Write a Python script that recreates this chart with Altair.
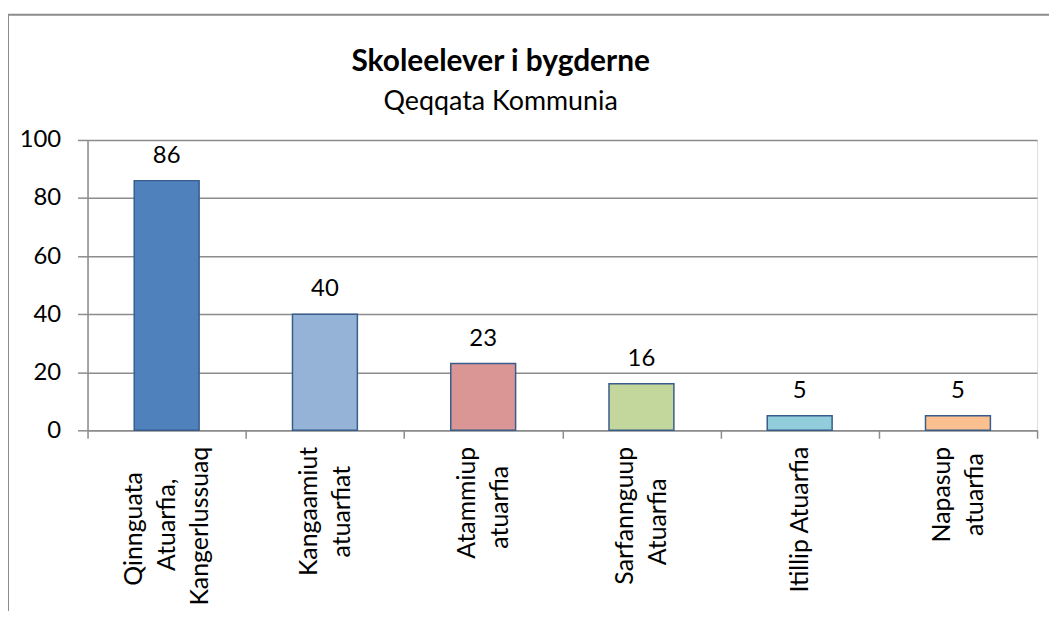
import altair as alt
import pandas as pd

NBSP = "\u00a0"
ZWSP = "\u200b"  # keeps the trailing no-break spaces from being trimmed

# Data
label_lines = [
    ["Qinnguata", "Atuarfia,", "Kangerlussuaq"],
    ["Kangaamiut", "atuarfiat"],
    ["Atammiup", "atuarfia"],
    ["Sarfannguup", "Atuarfia"],
    ["Itillip Atuarfia"],
    ["Napasup", "atuarfia"],
]
# trailing padding so the shorter lines sit centred under the longest one
line_pad = [
    [4, 5, 0],
    [0, 3],
    [0, 3],
    [0, 5],
    [0],
    [0, 1],
]
values = [86, 40, 23, 16, 5, 5]
colors = ["#4F81BD", "#95B3D7", "#D99694", "#C3D69B", "#92CDDC", "#FAC090"]

categories = [
    "|".join(line + (NBSP * pad + ZWSP if pad else "") for line, pad in zip(lines, pads))
    for lines, pads in zip(label_lines, line_pad)
]

df = pd.DataFrame({"cat": categories, "value": values})

FONT = "Lato"
GRID = "#8c8c8c"
LH = 33

x_enc = alt.X(
    "cat:N",
    sort=categories,
    title=None,
    scale=alt.Scale(paddingInner=0, paddingOuter=0),
    axis=alt.Axis(
        labelExpr="split(datum.label, '|')",
        labelAngle=270,
        labelAlign="right",
        labelBaseline="middle",
        labelFontSize=25,
        labelFont=FONT,
        labelColor="#000000",
        labelLineHeight=LH,
        labelPadding=8,
        labelOffset={
            "condition": [
                {"test": "indexof(datum.label, 'Kangerlussuaq') >= 0", "value": -LH},
                {"test": "indexof(datum.label, '|') < 0", "value": 0},
            ],
            "value": -LH / 2,
        },
        tickBand="extent",
        tickSize=8,
        tickColor=GRID,
        tickWidth=1.5,
        domainColor=GRID,
        domainWidth=1.5,
        grid=False,
        labelOverlap=False,
        labelLimit=400,
    ),
)
y_enc = alt.Y(
    "value:Q",
    title=None,
    scale=alt.Scale(domain=[0, 100], nice=False),
    axis=alt.Axis(
        values=[0, 20, 40, 60, 80, 100],
        labelFontSize=24,
        labelFont=FONT,
        labelColor="#000000",
        labelPadding=17,
        tickSize=10,
        tickColor=GRID,
        tickWidth=1.5,
        domainColor=GRID,
        domainWidth=1.5,
        gridColor=GRID,
        gridWidth=1.5,
    ),
)

border = alt.Chart(pd.DataFrame({"b": [0]})).mark_rect(
    filled=False, stroke="#8c8c8c", strokeWidth=2
).encode(
    x=alt.value(-80), x2=alt.value(1200), y=alt.value(-126), y2=alt.value(900)
)

bars = alt.Chart(df).mark_bar(
    stroke="#385D8A", strokeWidth=1.5, width=alt.RelativeBandSize(0.41)
).encode(
    x=x_enc,
    y=y_enc,
    color=alt.Color("cat:N", sort=categories,
                    scale=alt.Scale(domain=categories, range=colors), legend=None),
)

labels = alt.Chart(df).mark_text(
    dy=-18, baseline="alphabetic", fontSize=24, font=FONT, color="#000000"
).encode(
    x=alt.X("cat:N", sort=categories),
    y="value:Q",
    text="value:Q",
)

chart = alt.layer(border, bars, labels).properties(
    width=955,
    height=292,
    padding={"left": 80, "top": 131, "right": 12, "bottom": 180},
    autosize=alt.AutoSizeParams(type="none"),
    title=alt.Title(
        "Skoleelever i bygderne",
        subtitle="Qeqqata Kommunia",
        font=FONT,
        fontSize=30,
        fontWeight="bold",
        color="#000000",
        subtitleFont=FONT,
        subtitleFontSize=27,
        subtitleColor="#000000",
        subtitlePadding=12,
        anchor="middle",
        frame="group",
        dx=-62,
        dy=102,
        offset=0,
    ),
).configure_view(fill="#e6e6e6", stroke="transparent").configure(background="#ffffff")

chart.save("out.html", embed_options={"renderer": "svg", "actions": False})
